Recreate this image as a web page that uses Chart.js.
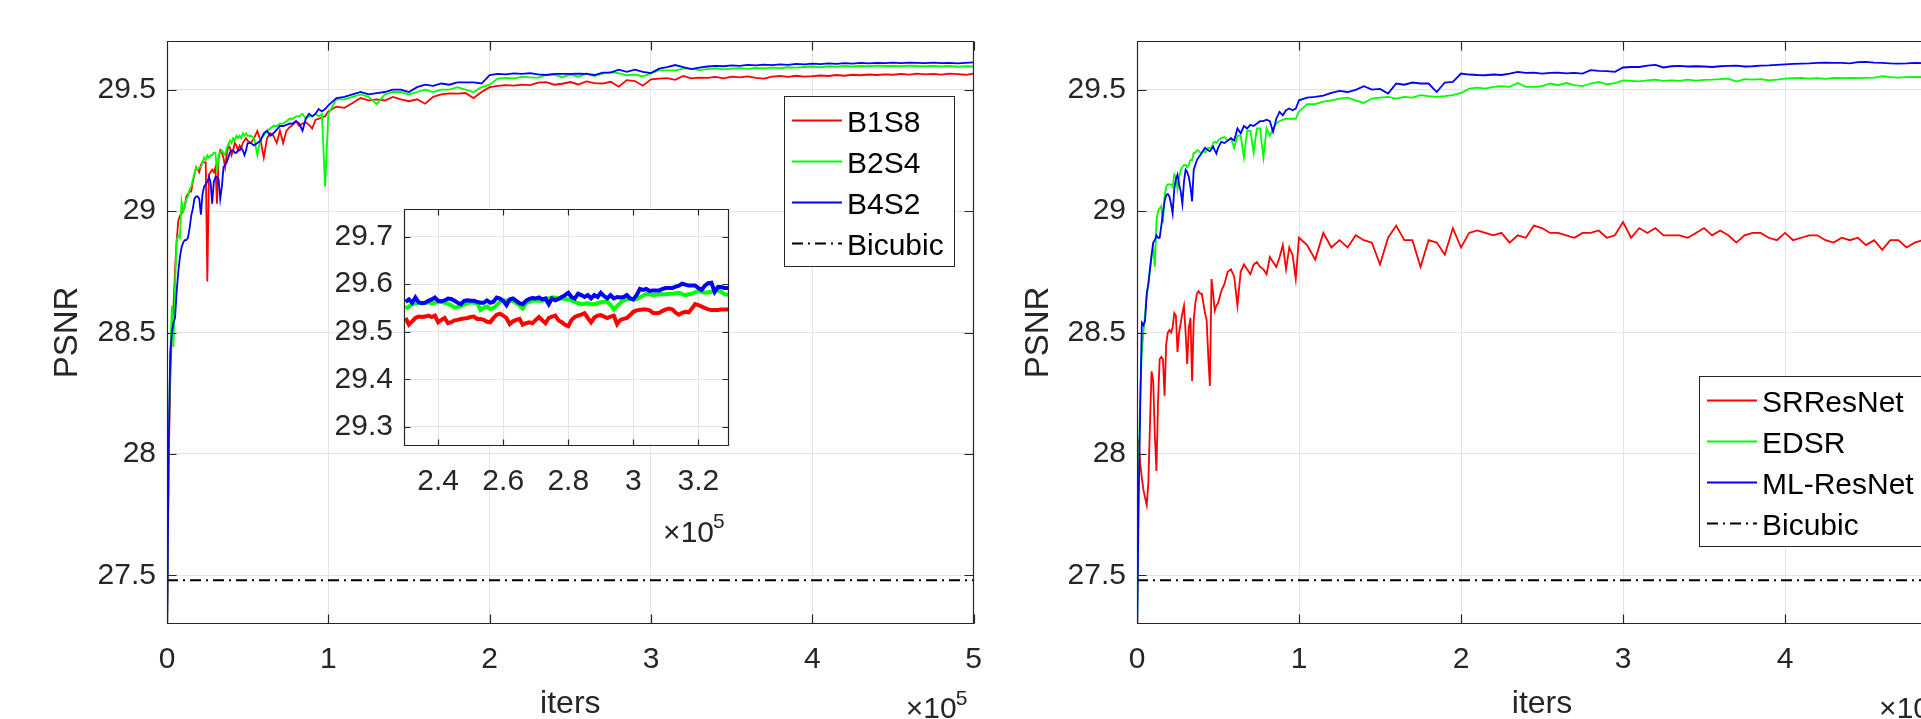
<!DOCTYPE html>
<html>
<head>
<meta charset="utf-8">
<script src="https://cdn.jsdelivr.net/npm/chart.js@4.4.1/dist/chart.umd.min.js"></script>
<style>
  html, body { margin: 0; padding: 0; background: #fff; overflow: hidden; }
  body { width: 1921px; height: 719px; position: relative; }
  canvas { position: absolute; }
  #left { left: 0; top: 0; }
  #right { left: 980px; top: 0; }
  #inset { left: 300px; top: 180px; }
</style>
</head>
<body>
<canvas id="left" width="1000" height="719"></canvas>
<canvas id="right" width="1000" height="719"></canvas>
<canvas id="inset" width="450" height="380"></canvas>
<script>
// iterations in thousands (axis is shown in units of 10^5)
const iters = [
  0, 1, 2, 3, 4, 5, 6, 7, 8, 9,
  10, 11, 12, 13, 14, 15, 16, 17, 18, 19,
  20, 21, 22, 23, 24, 25, 26, 27, 28, 29,
  30, 31, 32, 33, 34, 35, 36, 37, 38, 39,
  40, 41, 42, 43, 44, 45, 46, 47, 48, 49,
  50,
  52, 54, 56, 58, 60, 62, 64, 66, 68, 70,
  72, 74, 76, 78, 80, 82, 84, 86, 88, 90,
  92, 94, 96, 98, 100,
  105, 110, 115, 120, 125, 130, 135, 140, 145, 150,
  155, 160, 165, 170, 175, 180, 185, 190, 195, 200,
  205, 210, 215, 220, 225, 230, 235, 240, 245, 250,
  255, 260, 265, 270, 275, 280, 285, 290, 295, 300,
  305, 310, 315, 320, 325, 330, 335, 340, 345, 350,
  355, 360, 365, 370, 375, 380, 385, 390, 395, 400,
  405, 410, 415, 420, 425, 430, 435, 440, 445, 450,
  455, 460, 465, 470, 475, 480, 485, 490, 495, 500
];
const insetIters = [
  230, 231, 232, 233, 234, 235, 236, 237, 238, 239,
  240, 241, 242, 243, 244, 245, 246, 247, 248, 249,
  250, 251, 252, 253, 254, 255, 256, 257, 258, 259,
  260, 261, 262, 263, 264, 265, 266, 267, 268, 269,
  270, 271, 272, 273, 274, 275, 276, 277, 278, 279,
  280, 281, 282, 283, 284, 285, 286, 287, 288, 289,
  290, 291, 292, 293, 294, 295, 296, 297, 298, 299,
  300, 301, 302, 303, 304, 305, 306, 307, 308, 309,
  310, 311, 312, 313, 314, 315, 316, 317, 318, 319,
  320, 321, 322, 323, 324, 325, 326, 327, 328, 329,
  330
];

const xTicks = [0, 1, 2, 3, 4, 5];
const yTicks = [27.5, 28, 28.5, 29, 29.5];
const insetXTicks = [2.4, 2.6, 2.8, 3, 3.2];
const insetYTicks = [29.3, 29.4, 29.5, 29.6, 29.7];

const bicubic = 27.48;

// left figure
const b1s8 = [
  27.20, 27.95, 28.30, 28.50, 28.60, 28.76, 28.88, 28.96, 28.98, 28.99,
  29.00, 29.02, 29.06, 29.07, 29.08, 29.08, 29.12, 29.15, 29.18, 29.17,
  29.16, 29.19, 29.20, 29.20, 29.20, 28.71, 29.15, 29.16, 29.17, 29.16,
  29.18, 29.03, 29.22, 29.25, 29.24, 29.22, 29.18, 29.23, 29.27, 29.26,
  29.23, 29.25, 29.28, 29.27, 29.25, 29.27, 29.26, 29.28, 29.29, 29.30,
  29.29,
  29.28, 29.30, 29.33, 29.29, 29.22, 29.30, 29.32, 29.31, 29.28, 29.33,
  29.28, 29.33, 29.345, 29.355, 29.37, 29.35, 29.36, 29.365, 29.355, 29.34,
  29.375, 29.38, 29.385, 29.39, 29.41,
  29.43, 29.425, 29.445, 29.465, 29.456, 29.46, 29.455, 29.47, 29.46, 29.452,
  29.46, 29.442, 29.47, 29.48, 29.484, 29.483, 29.486, 29.465, 29.49, 29.51,
  29.515, 29.518, 29.516, 29.520, 29.518, 29.529, 29.531, 29.520, 29.524, 29.531,
  29.521, 29.534, 29.527, 29.525, 29.532, 29.512, 29.539, 29.535, 29.516, 29.542,
  29.545, 29.547, 29.540, 29.556, 29.546, 29.549, 29.548, 29.552, 29.546, 29.553,
  29.550, 29.554, 29.548, 29.545, 29.553, 29.556, 29.552, 29.557, 29.553, 29.555,
  29.558, 29.556, 29.560, 29.557, 29.561, 29.559, 29.562, 29.560, 29.563, 29.561,
  29.565, 29.562, 29.566, 29.563, 29.565, 29.562, 29.566, 29.564, 29.561, 29.566
];
const b2s4 = [
  27.25, 28.00, 28.41, 28.61, 28.44, 28.70, 28.88, 28.90, 28.89, 29.04,
  29.00, 29.02, 29.05, 29.06, 29.09, 29.10, 29.13, 29.15, 29.18, 29.17,
  29.18, 29.18, 29.20, 29.22, 29.21, 29.23, 29.22, 29.23, 29.23, 29.24,
  29.24, 29.16, 29.23, 29.24, 29.25, 29.24, 29.23, 29.26, 29.27, 29.29,
  29.28, 29.30, 29.29, 29.31, 29.30, 29.31, 29.30, 29.32, 29.31, 29.32,
  29.31,
  29.31, 29.30, 29.23, 29.30, 29.31, 29.33, 29.34, 29.35, 29.35, 29.36,
  29.36, 29.37, 29.38, 29.38, 29.39, 29.39, 29.40, 29.38, 29.39, 29.39,
  29.40, 29.39, 29.40, 29.10, 29.40,
  29.46, 29.46, 29.47, 29.48, 29.47, 29.44, 29.48, 29.49, 29.49, 29.48,
  29.49, 29.50, 29.49, 29.50, 29.50, 29.51, 29.50, 29.49, 29.51, 29.52,
  29.545, 29.548, 29.546, 29.552, 29.550, 29.549, 29.560, 29.562, 29.551, 29.562,
  29.553, 29.566, 29.556, 29.566, 29.572, 29.568, 29.559, 29.562, 29.554, 29.568,
  29.579, 29.579, 29.579, 29.586, 29.586, 29.580, 29.584, 29.587, 29.583, 29.586,
  29.588, 29.585, 29.589, 29.587, 29.590, 29.588, 29.592, 29.590, 29.593, 29.595,
  29.592, 29.596, 29.594, 29.597, 29.595, 29.598, 29.596, 29.599, 29.597, 29.598,
  29.596, 29.599, 29.597, 29.596, 29.598, 29.595, 29.597, 29.594, 29.596, 29.595
];
const b4s2 = [
  27.20, 28.00, 28.41, 28.50, 28.54, 28.56, 28.67, 28.75, 28.81, 28.85,
  28.87, 28.88, 28.88, 28.89, 28.93, 28.98, 29.01, 29.05, 29.06, 29.06,
  29.05, 28.985, 29.07, 29.10, 29.11, 29.12, 29.14, 29.12, 29.03, 29.12,
  29.14, 29.14, 29.13, 29.05, 29.10, 29.18, 29.19, 29.20, 29.22, 29.24,
  29.25, 29.25, 29.24, 29.24, 29.25, 29.25, 29.26, 29.25, 29.23, 29.25,
  29.28,
  29.28, 29.27, 29.28, 29.29, 29.32, 29.33, 29.31, 29.32, 29.335, 29.35,
  29.35, 29.355, 29.36, 29.36, 29.37, 29.36, 29.33, 29.38, 29.40, 29.39,
  29.40, 29.42, 29.41, 29.42, 29.435,
  29.465, 29.47, 29.48, 29.49, 29.48, 29.485, 29.49, 29.50, 29.50, 29.49,
  29.51, 29.52, 29.515, 29.525, 29.52, 29.53, 29.53, 29.53, 29.525, 29.56,
  29.565, 29.563, 29.567, 29.565, 29.568, 29.563, 29.560, 29.565, 29.565, 29.565,
  29.566, 29.565, 29.560, 29.570, 29.570, 29.582, 29.573, 29.582, 29.573, 29.568,
  29.586, 29.592, 29.601, 29.592, 29.584, 29.590, 29.595, 29.598, 29.596, 29.600,
  29.598, 29.602, 29.600, 29.603, 29.601, 29.604, 29.602, 29.606, 29.604, 29.607,
  29.605, 29.608, 29.606, 29.609, 29.607, 29.610, 29.608, 29.610, 29.609, 29.611,
  29.609, 29.611, 29.610, 29.609, 29.611, 29.609, 29.610, 29.608, 29.610, 29.612
];

// right figure
const srresnet = [
  28.03, 28.05, 27.96, 27.90, 27.85, 27.82, 27.79, 27.88, 28.12, 28.34,
  28.30, 28.08, 27.93, 28.22, 28.39, 28.40, 28.39, 28.24, 28.45, 28.50,
  28.51, 28.50, 28.52, 28.58, 28.57, 28.42, 28.50, 28.54, 28.58, 28.61,
  28.50, 28.37, 28.52, 28.56, 28.30, 28.55, 28.62, 28.66, 28.67, 28.66,
  28.66, 28.62, 28.58, 28.55, 28.40, 28.28, 28.72, 28.66, 28.59, 28.61,
  28.62,
  28.67, 28.70, 28.75, 28.76, 28.73, 28.61, 28.75, 28.78, 28.76, 28.74,
  28.78, 28.79, 28.77, 28.76, 28.74, 28.81, 28.79, 28.77, 28.81, 28.86,
  28.76, 28.85, 28.82, 28.72, 28.89,
  28.86, 28.80, 28.91, 28.85, 28.88, 28.85, 28.90, 28.88, 28.87, 28.78,
  28.89, 28.94, 28.88, 28.88, 28.77, 28.88, 28.87, 28.82, 28.93, 28.85,
  28.91, 28.92, 28.91, 28.90, 28.91, 28.87, 28.90, 28.89, 28.94, 28.93,
  28.91, 28.91, 28.90, 28.89, 28.91, 28.91, 28.92, 28.89, 28.90, 28.955,
  28.89, 28.93, 28.91, 28.93, 28.90, 28.90, 28.90, 28.89, 28.91, 28.93,
  28.90, 28.92, 28.90, 28.87, 28.90, 28.91, 28.91, 28.89, 28.88, 28.91,
  28.88, 28.89, 28.90, 28.90, 28.88, 28.87, 28.89, 28.88, 28.89, 28.86,
  28.88, 28.84, 28.88, 28.88, 28.85, 28.87, 28.88, 28.87, 28.88, 28.87
];
const edsr = [
  27.20, 27.90, 28.25, 28.42, 28.50, 28.58, 28.65, 28.70, 28.76, 28.81,
  28.85, 28.77, 28.96, 29.00, 29.01, 29.02, 28.95, 29.06, 29.10, 29.11,
  29.11, 29.11, 29.10, 29.15, 29.14, 29.09, 29.14, 29.17, 29.18, 29.19,
  29.19, 29.18, 29.19, 29.21, 29.21, 29.24, 29.24, 29.25, 29.25, 29.24,
  29.24, 29.25, 29.24, 29.25, 29.26, 29.26, 29.26, 29.28, 29.285, 29.28,
  29.29,
  29.30, 29.305, 29.29, 29.30, 29.26, 29.31, 29.31, 29.22, 29.33, 29.33,
  29.24, 29.34, 29.34, 29.22, 29.34, 29.31, 29.34, 29.36, 29.37, 29.375,
  29.38, 29.38, 29.38, 29.38, 29.41,
  29.44, 29.44, 29.45, 29.456, 29.463, 29.467, 29.456, 29.445, 29.463, 29.467,
  29.47, 29.463, 29.47, 29.467, 29.477, 29.473, 29.47, 29.473, 29.477, 29.486,
  29.504, 29.508, 29.504, 29.511, 29.514, 29.511, 29.527, 29.511, 29.511, 29.514,
  29.525, 29.518, 29.527, 29.518, 29.514, 29.525, 29.532, 29.522, 29.527, 29.538,
  29.536, 29.534, 29.538, 29.541, 29.536, 29.538, 29.536, 29.541, 29.537, 29.540,
  29.541, 29.543, 29.545, 29.533, 29.543, 29.541, 29.543, 29.538, 29.541, 29.545,
  29.547, 29.548, 29.545, 29.547, 29.544, 29.548, 29.547, 29.548, 29.547, 29.548,
  29.549, 29.555, 29.551, 29.549, 29.551, 29.552, 29.551, 29.552, 29.550, 29.551
];
const mlresnet = [
  27.20, 27.80, 28.20, 28.54, 28.53, 28.55, 28.66, 28.70, 28.76, 28.82,
  28.87, 28.88, 28.90, 28.89, 28.89, 28.94, 28.99, 29.04, 29.065, 29.07,
  29.06, 29.03, 28.99, 29.09, 29.13, 29.15, 29.11, 29.08, 29.03, 29.12,
  29.17, 29.16, 29.14, 29.10, 29.04, 29.17, 29.19, 29.21, 29.22, 29.23,
  29.24, 29.25, 29.26, 29.255, 29.25, 29.246, 29.255, 29.265, 29.25, 29.237,
  29.26,
  29.285, 29.28, 29.29, 29.30, 29.29, 29.34, 29.32, 29.35, 29.34, 29.355,
  29.35, 29.36, 29.37, 29.37, 29.376, 29.37, 29.326, 29.38, 29.408, 29.394,
  29.415, 29.422, 29.415, 29.422, 29.456,
  29.467, 29.47, 29.475, 29.486, 29.495, 29.49, 29.499, 29.514, 29.50, 29.503,
  29.484, 29.525, 29.52, 29.529, 29.525, 29.525, 29.49, 29.529, 29.532, 29.566,
  29.562, 29.560, 29.559, 29.562, 29.560, 29.566, 29.573, 29.569, 29.570, 29.566,
  29.569, 29.570, 29.567, 29.569, 29.566, 29.580, 29.577, 29.576, 29.573, 29.591,
  29.593, 29.593, 29.599, 29.602, 29.591, 29.596, 29.598, 29.595, 29.596, 29.595,
  29.593, 29.596, 29.598, 29.599, 29.595, 29.596, 29.599, 29.600, 29.602, 29.604,
  29.606, 29.607, 29.608, 29.610, 29.611, 29.610, 29.610, 29.608, 29.613, 29.614,
  29.611, 29.610, 29.608, 29.607, 29.608, 29.610, 29.609, 29.610, 29.609, 29.610
];

// zoomed inset of the left figure, 2.3e5 .. 3.3e5
const insetB1S8 = [
  29.529, 29.515, 29.522, 29.529, 29.532, 29.531, 29.532, 29.534, 29.531, 29.534,
  29.520, 29.525, 29.529, 29.518, 29.520, 29.524, 29.525, 29.527, 29.528, 29.529,
  29.531, 29.532, 29.527, 29.527, 29.525, 29.521, 29.520, 29.529, 29.536, 29.538,
  29.534, 29.529, 29.516, 29.522, 29.525, 29.527, 29.515, 29.518, 29.520, 29.518,
  29.525, 29.531, 29.524, 29.518, 29.529, 29.532, 29.534, 29.524, 29.520, 29.515,
  29.512, 29.525, 29.531, 29.534, 29.536, 29.539, 29.529, 29.520, 29.530, 29.534,
  29.535, 29.532, 29.529, 29.532, 29.534, 29.516, 29.525, 29.527, 29.529, 29.535,
  29.542, 29.545, 29.546, 29.547, 29.547, 29.545, 29.540, 29.539, 29.540, 29.544,
  29.547, 29.549, 29.547, 29.540, 29.536, 29.540, 29.542, 29.541, 29.549, 29.558,
  29.556, 29.553, 29.550, 29.547, 29.546, 29.546, 29.546, 29.547, 29.547, 29.547,
  29.549
];
const insetB2S4 = [
  29.549, 29.553, 29.558, 29.560, 29.561, 29.560, 29.561, 29.562, 29.560, 29.561,
  29.562, 29.563, 29.561, 29.559, 29.556, 29.551, 29.552, 29.554, 29.557, 29.560,
  29.562, 29.561, 29.560, 29.546, 29.551, 29.553, 29.548, 29.550, 29.556, 29.563,
  29.566, 29.565, 29.567, 29.564, 29.560, 29.556, 29.549, 29.560, 29.563, 29.565,
  29.566, 29.565, 29.565, 29.568, 29.570, 29.572, 29.572, 29.570, 29.570, 29.569,
  29.568, 29.566, 29.563, 29.560, 29.558, 29.559, 29.560, 29.558, 29.558, 29.560,
  29.562, 29.563, 29.563, 29.556, 29.547, 29.554, 29.561, 29.566, 29.568, 29.570,
  29.568, 29.569, 29.572, 29.576, 29.580, 29.579, 29.577, 29.578, 29.579, 29.579,
  29.579, 29.580, 29.580, 29.581, 29.582, 29.579, 29.577, 29.579, 29.580, 29.583,
  29.586, 29.584, 29.582, 29.583, 29.584, 29.586, 29.587, 29.584, 29.579, 29.578,
  29.580
];
const insetB4S2 = [
  29.563, 29.568, 29.561, 29.572, 29.562, 29.560, 29.561, 29.565, 29.568, 29.572,
  29.565, 29.564, 29.566, 29.570, 29.569, 29.565, 29.561, 29.558, 29.565, 29.566,
  29.565, 29.565, 29.563, 29.561, 29.561, 29.566, 29.561, 29.563, 29.572, 29.570,
  29.565, 29.556, 29.568, 29.570, 29.565, 29.560, 29.558, 29.565, 29.569, 29.571,
  29.570, 29.572, 29.568, 29.570, 29.558, 29.570, 29.566, 29.569, 29.573, 29.577,
  29.582, 29.573, 29.570, 29.580, 29.577, 29.573, 29.577, 29.570, 29.577, 29.573,
  29.582, 29.575, 29.570, 29.577, 29.570, 29.573, 29.572, 29.573, 29.577, 29.570,
  29.568, 29.577, 29.590, 29.588, 29.590, 29.586, 29.587, 29.587, 29.587, 29.590,
  29.592, 29.592, 29.592, 29.595, 29.597, 29.601, 29.599, 29.597, 29.597, 29.597,
  29.592, 29.588, 29.597, 29.602, 29.603, 29.584, 29.594, 29.594, 29.592, 29.592,
  29.590
];

const FONT = "'Liberation Sans', Arial, Helvetica, sans-serif";
const AXIS = '#262626';
const GRID = '#e3e3e3';
Chart.defaults.font.family = FONT;
Chart.defaults.font.size = 30;
Chart.defaults.color = AXIS;

function series(label, color, xs, ys, width, order) {
  return {
    label: label,
    data: xs.map((k, i) => ({ x: k / 100, y: ys[i] })),
    borderColor: color,
    borderWidth: width,
    pointRadius: 0,
    tension: 0,
    fill: false,
    order: order
  };
}

function bicubicLine() {
  return {
    label: 'Bicubic',
    data: [{ x: 0, y: bicubic }, { x: 5, y: bicubic }],
    borderColor: '#000',
    borderWidth: 2,
    borderDash: [11, 5, 2, 5],
    pointRadius: 0,
    order: 0
  };
}

// MATLAB style box, inward ticks, x10^5 multiplier and boxed legend
const matlabAxes = {
  id: 'matlabAxes',
  beforeDraw(chart, args, o) {
    if (!o.fill) return;
    const { ctx, chartArea: a } = chart;
    ctx.save();
    ctx.fillStyle = o.fill;
    ctx.fillRect(a.left, a.top, a.right - a.left, a.bottom - a.top);
    ctx.restore();
  },
  afterDraw(chart, args, o) {
    const { ctx, chartArea: a, scales } = chart;
    const L = Math.round(a.left) + 0.5, R = Math.round(a.right) - 0.5;
    const T = Math.round(a.top) + 0.5, B = Math.round(a.bottom) - 0.5;
    ctx.save();
    ctx.strokeStyle = AXIS;
    ctx.lineWidth = 1.2;
    ctx.beginPath();
    ctx.rect(L, T, R - L, B - T);
    scales.x.ticks.forEach(t => {
      const p = Math.round(scales.x.getPixelForValue(t.value)) + 0.5;
      ctx.moveTo(p, B); ctx.lineTo(p, B - o.tick);
      ctx.moveTo(p, T); ctx.lineTo(p, T + o.tick);
    });
    scales.y.ticks.forEach(t => {
      const p = Math.round(scales.y.getPixelForValue(t.value)) + 0.5;
      ctx.moveTo(L, p); ctx.lineTo(L + o.tick, p);
      ctx.moveTo(R, p); ctx.lineTo(R - o.tick, p);
    });
    ctx.stroke();

    // exponent label
    ctx.fillStyle = AXIS;
    ctx.textBaseline = 'alphabetic';
    ctx.textAlign = 'right';
    ctx.font = '30px ' + FONT;
    ctx.fillText('\u00d710', a.right - o.exp[0], a.bottom + o.exp[1]);
    ctx.textAlign = 'left';
    ctx.font = '21px ' + FONT;
    ctx.fillText('5', a.right - o.exp[0] - 1, a.bottom + o.exp[2]);

    if (o.legend) {
      const lg = o.legend;
      ctx.fillStyle = '#fff';
      ctx.fillRect(lg.x, lg.y, lg.w, lg.h);
      ctx.strokeStyle = AXIS;
      ctx.lineWidth = 1;
      ctx.strokeRect(lg.x + 0.5, lg.y + 0.5, lg.w, lg.h);
      ctx.font = '30px ' + FONT;
      chart.data.datasets.forEach((ds, i) => {
        const cy = lg.y + 24.5 + i * 41;
        ctx.strokeStyle = ds.borderColor;
        ctx.lineWidth = 2;
        ctx.setLineDash(ds.borderDash || []);
        ctx.beginPath();
        ctx.moveTo(lg.x + 8, cy);
        ctx.lineTo(lg.x + 58, cy);
        ctx.stroke();
        ctx.setLineDash([]);
        ctx.fillStyle = '#000';
        ctx.fillText(ds.label, lg.x + 63, cy + 11);
      });
    }
    ctx.restore();
  }
};

function makeOptions(c) {
  return {
    responsive: false,
    animation: false,
    events: [],
    layout: { padding: c.padding, autoPadding: false },
    plugins: {
      legend: { display: false },
      tooltip: { enabled: false },
      matlabAxes: c.axes
    },
    scales: {
      x: {
        type: 'linear',
        min: c.xRange[0],
        max: c.xRange[1],
        afterBuildTicks: s => { s.ticks = c.xTicks.map(v => ({ value: v })); },
        afterFit: s => { s.height = c.xHeight; },
        grid: { color: GRID, drawTicks: false },
        border: { display: false },
        ticks: { padding: c.xPad, autoSkip: false, maxRotation: 0, callback: v => String(v) },
        title: c.xTitle
          ? { display: true, text: c.xTitle, font: { size: 32 }, color: AXIS, padding: { top: 0, bottom: -4 } }
          : { display: false }
      },
      y: {
        type: 'linear',
        min: c.yRange[0],
        max: c.yRange[1],
        afterBuildTicks: s => { s.ticks = c.yTicks.map(v => ({ value: v })); },
        afterFit: s => { s.width = c.yWidth; },
        grid: { color: GRID, drawTicks: false },
        border: { display: false },
        ticks: { padding: 11, callback: v => String(v) },
        title: c.yTitle
          ? { display: true, text: c.yTitle, font: { size: 33 }, color: AXIS, padding: { top: c.yTitlePad, bottom: 0 } }
          : { display: false }
      }
    }
  };
}

new Chart(document.getElementById('left'), {
  type: 'line',
  data: {
    datasets: [
      series('B1S8', '#ff0000', iters, b1s8, 1.8, 3),
      series('B2S4', '#00ff00', iters, b2s4, 1.8, 2),
      series('B4S2', '#0000ff', iters, b4s2, 1.8, 1),
      bicubicLine()
    ]
  },
  options: makeOptions({
    padding: { top: 41, right: 26, left: 0, bottom: 0 },
    xRange: [0, 5], yRange: [27.3, 29.7],
    xTicks: xTicks, yTicks: yTicks,
    xHeight: 95, yWidth: 167, xPad: 18,
    xTitle: 'iters', yTitle: 'PSNR', yTitlePad: 48,
    axes: { tick: 9, exp: [17, 94, 81], legend: { x: 784, y: 96, w: 170, h: 170 } }
  }),
  plugins: [matlabAxes]
});

new Chart(document.getElementById('right'), {
  type: 'line',
  data: {
    datasets: [
      series('SRResNet', '#ff0000', iters, srresnet, 1.8, 3),
      series('EDSR', '#00ff00', iters, edsr, 1.8, 2),
      series('ML-ResNet', '#0000ff', iters, mlresnet, 1.8, 1),
      bicubicLine()
    ]
  },
  options: makeOptions({
    padding: { top: 41, right: 33, left: 0, bottom: 0 },
    xRange: [0, 5], yRange: [27.3, 29.7],
    xTicks: xTicks, yTicks: yTicks,
    xHeight: 95, yWidth: 157, xPad: 18,
    xTitle: 'iters', yTitle: 'PSNR', yTitlePad: 39,
    axes: { tick: 9, exp: [17, 94, 81], legend: { x: 719, y: 376, w: 226, h: 170 } }
  }),
  plugins: [matlabAxes]
});

new Chart(document.getElementById('inset'), {
  type: 'line',
  data: {
    datasets: [
      series('B1S8', '#ff0000', insetIters, insetB1S8, 4, 3),
      series('B2S4', '#00ff00', insetIters, insetB2S4, 4, 2),
      series('B4S2', '#0000ff', insetIters, insetB4S2, 4, 1)
    ]
  },
  options: makeOptions({
    padding: { top: 23, right: 21, left: 0, bottom: 0 },
    xRange: [2.295, 3.294], yRange: [29.26, 29.758],
    xTicks: insetXTicks, yTicks: insetYTicks,
    xHeight: 114, yWidth: 104, xPad: 18,
    axes: { tick: 6, exp: [15, 96, 82], fill: '#ffffff' }
  }),
  plugins: [matlabAxes]
});
</script>
</body>
</html>
